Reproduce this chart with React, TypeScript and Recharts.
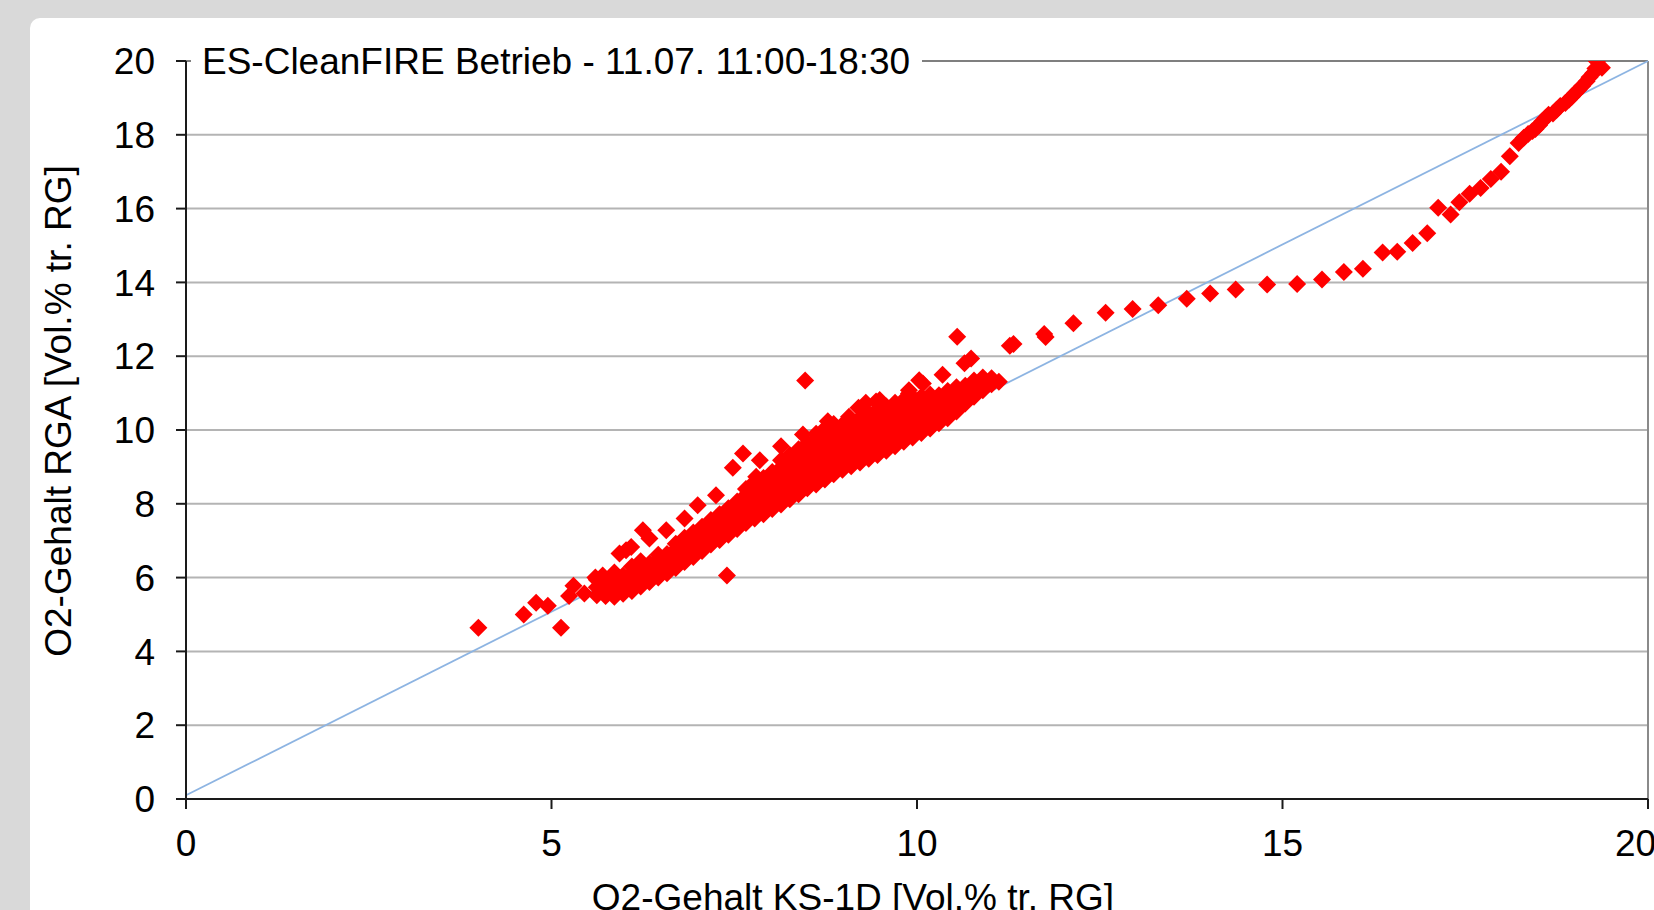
import React from 'react';
import { ScatterChart, Scatter, XAxis, YAxis, CartesianGrid, ReferenceLine } from 'recharts';

const FONT = "'Liberation Sans', Arial, sans-serif";
const FS = 37;

const xTicks = [0, 5, 10, 15, 20];
const yTicks = [0, 2, 4, 6, 8, 10, 12, 14, 16, 18, 20];
const annotationText = 'ES-CleanFIRE Betrieb - 11.07. 11:00-18:30';
const xAxisTitle = 'O2-Gehalt KS-1D [Vol.% tr. RG]';
const yAxisTitle = 'O2-Gehalt RGA [Vol.% tr. RG]';

// 1:1 reference line end points
const diagonalStart = { x: 0, y: 0.1 };
const diagonalEnd = { x: 20, y: 20 };

// sparse points at the low end
const lowPoints: [number, number][] = [
  [4.0, 4.64], [4.62, 5.0], [4.79, 5.32], [4.95, 5.24], [5.13, 4.64],
  [5.24, 5.5], [5.3, 5.78], [5.45, 5.57], [5.6, 6.0], [5.7, 6.06], [7.4, 6.06],
];

// dense cloud, read column by column (x: list of y)
const cloudColumns: [number, number[]][] = [
  [5.62, [5.52, 5.74, 5.94]],
  [5.74, [5.5, 5.7, 5.92]],
  [5.86, [5.48, 5.72, 5.95, 6.14]],
  [5.98, [5.56, 5.82, 6.06]],
  [6.1, [5.64, 5.9, 6.12, 6.3]],
  [6.22, [5.76, 6.02, 6.26, 6.44]],
  [6.34, [5.88, 6.14, 6.38]],
  [6.46, [6.0, 6.26, 6.5, 6.62]],
  [6.58, [6.12, 6.4, 6.64]],
  [6.7, [6.26, 6.52, 6.76, 6.92]],
  [6.82, [6.42, 6.68, 6.9, 7.08]],
  [6.94, [6.56, 6.84, 7.06, 7.22]],
  [7.06, [6.72, 6.98, 7.2, 7.38]],
  [7.18, [6.9, 7.18, 7.4, 7.56]],
  [7.3, [7.02, 7.28, 7.5, 7.72]],
  [7.42, [7.16, 7.42, 7.66, 7.88]],
  [7.54, [7.32, 7.6, 7.84, 8.06]],
  [7.66, [7.48, 7.76, 8.0, 8.24, 8.4]],
  [7.78, [7.6, 7.88, 8.12, 8.36, 8.54]],
  [7.9, [7.72, 8.0, 8.24, 8.48, 8.7]],
  [8.02, [7.86, 8.14, 8.38, 8.62, 8.86]],
  [8.14, [7.98, 8.26, 8.5, 8.74, 8.98, 9.18]],
  [8.26, [8.12, 8.4, 8.64, 8.88, 9.12, 9.32]],
  [8.38, [8.26, 8.54, 8.78, 9.02, 9.26, 9.48]],
  [8.5, [8.42, 8.7, 8.94, 9.18, 9.42, 9.64]],
  [8.62, [8.52, 8.8, 9.04, 9.28, 9.52, 9.76, 9.9]],
  [8.74, [8.66, 8.94, 9.18, 9.42, 9.66, 9.9, 10.04]],
  [8.86, [8.8, 9.08, 9.32, 9.56, 9.8, 10.04, 10.16]],
  [8.98, [8.92, 9.2, 9.44, 9.68, 9.92, 10.14]],
  [9.1, [9.02, 9.3, 9.54, 9.78, 10.02, 10.24]],
  [9.22, [9.12, 9.4, 9.64, 9.88, 10.12, 10.32]],
  [9.34, [9.22, 9.5, 9.74, 9.98, 10.22, 10.44]],
  [9.46, [9.32, 9.6, 9.84, 10.08, 10.32, 10.56]],
  [9.58, [9.44, 9.72, 9.96, 10.2, 10.44, 10.64]],
  [9.7, [9.56, 9.84, 10.08, 10.32, 10.56, 10.74]],
  [9.82, [9.68, 9.96, 10.2, 10.44, 10.66, 10.82]],
  [9.94, [9.8, 10.08, 10.32, 10.56, 10.8]],
  [10.06, [9.92, 10.2, 10.44, 10.66, 10.9]],
  [10.18, [10.04, 10.32, 10.56, 10.8, 10.96]],
  [10.3, [10.18, 10.46, 10.7, 10.94]],
  [10.42, [10.32, 10.6, 10.84, 11.06]],
  [10.54, [10.5, 10.78, 11.0, 11.16]],
  [10.66, [10.72, 10.96, 11.2]],
  [10.78, [10.9, 11.12, 11.34]],
  [10.9, [11.08, 11.3, 11.42]],
  [11.02, [11.24, 11.4]],
  [11.12, [11.31]],
];

// scattered points above the dense cloud
const upperPoints: [number, number][] = [
  [5.93, 6.65], [6.02, 6.74], [6.09, 6.83], [6.25, 7.28], [6.34, 7.06], [6.57, 7.28],
  [6.82, 7.6], [7.0, 7.96], [7.25, 8.23], [7.48, 8.98], [7.62, 9.36], [7.71, 8.46],
  [7.8, 8.73], [7.85, 9.18], [8.14, 9.56], [8.44, 9.88], [8.57, 9.56], [8.78, 10.24],
  [9.07, 10.36], [9.2, 10.6], [9.3, 10.74], [9.44, 10.77], [9.49, 10.81], [9.89, 10.99],
  [9.89, 11.08], [10.03, 11.35], [10.08, 11.26], [10.35, 11.5], [8.47, 11.34], [10.55, 12.53],
];

// upper tail of the run
const tailPoints: [number, number][] = [
  [10.65, 11.81], [10.74, 11.94], [11.27, 12.28], [11.32, 12.33], [11.74, 12.6], [11.76, 12.52],
  [12.14, 12.89], [12.58, 13.18], [12.95, 13.28], [13.3, 13.38], [13.69, 13.56], [14.01, 13.7],
  [14.36, 13.81], [14.79, 13.94], [15.2, 13.96], [15.54, 14.08], [15.84, 14.28], [16.1, 14.37],
  [16.37, 14.81], [16.57, 14.83], [16.78, 15.07], [16.98, 15.33], [17.13, 16.02], [17.3, 15.84],
  [17.42, 16.17], [17.56, 16.4], [17.71, 16.56], [17.85, 16.8], [17.99, 17.0], [18.11, 17.42],
  [18.23, 17.78], [18.3, 17.92], [18.36, 18.02], [18.42, 18.1], [18.46, 18.16], [18.51, 18.26],
  [18.55, 18.36], [18.6, 18.46], [18.64, 18.54], [18.7, 18.58], [18.75, 18.68], [18.8, 18.78],
  [18.87, 18.86], [18.92, 18.96], [18.96, 19.04], [19.0, 19.12], [19.05, 19.22], [19.1, 19.32],
  [19.16, 19.45], [19.2, 19.56], [19.25, 19.67], [19.28, 19.8], [19.3, 19.99], [19.37, 19.82],
];

const toPoints = (arr: [number, number][]) => arr.map(([x, y]) => ({ x, y }));
const cloudPoints = cloudColumns.flatMap(([x, ys]) => ys.map((y) => ({ x, y })));
const allPoints = [
  ...toPoints(lowPoints),
  ...cloudPoints,
  ...toPoints(upperPoints),
  ...toPoints(tailPoints),
];

const Diamond = (props: any) => {
  const { cx, cy } = props;
  if (cx == null || cy == null) return <g />;
  const r = 9;
  return <path d={`M${cx},${cy - r}L${cx + r},${cy}L${cx},${cy + r}L${cx - r},${cy}Z`} fill="#ff0000" />;
};

const tickStyle = { fill: '#000', fontSize: FS, fontFamily: FONT };

const renderXTitle = (props: any) => {
  const vb = props.viewBox || {};
  return (
    <text x={vb.x + vb.width / 2 - 64} y={vb.y + vb.height} textAnchor="middle"
      fontSize={FS} fontFamily={FONT} fill="#000">{xAxisTitle}</text>
  );
};

const renderYTitle = (props: any) => {
  const vb = props.viewBox || {};
  const x = vb.x + 71;
  const y = vb.y + vb.height / 2 - 19;
  return (
    <text x={x} y={y} transform={`rotate(-90, ${x}, ${y})`} textAnchor="middle"
      fontSize={FS} fontFamily={FONT} fill="#000">{yAxisTitle}</text>
  );
};

const renderAnnotation = (props: any) => {
  const vb = props.viewBox || {};
  return (
    <g>
      <rect x={vb.x + 5} y={vb.y - 22} width={731} height={44} fill="#ffffff" />
      <text x={vb.x + 16} y={vb.y} dy="0.355em" fontSize={FS} fontFamily={FONT} fill="#000">{annotationText}</text>
    </g>
  );
};

export default function App() {
  return (
    <div style={{ position: 'absolute', left: 0, top: 0, width: 1654, height: 910, overflow: 'hidden', background: '#d9d9d9' }}>
      <div style={{ position: 'absolute', left: 30, top: 18, width: 1700, height: 1000, background: '#ffffff', borderRadius: 10 }} />
      <div style={{ position: 'absolute', left: 0, top: 0 }}>
        <ScatterChart width={1654} height={910} margin={{ top: 61, right: 6, bottom: 0, left: 0 }}>
          <CartesianGrid vertical={false} stroke="#b4b4b4" strokeWidth={2} />
          <XAxis type="number" dataKey="x" domain={[0, 20]} ticks={xTicks} height={111}
            tickSize={10} tickMargin={21} allowDataOverflow
            axisLine={{ stroke: '#1a1a1a', strokeWidth: 2 }} tickLine={{ stroke: '#1a1a1a', strokeWidth: 2 }}
            tick={tickStyle} label={renderXTitle} />
          <YAxis type="number" dataKey="y" domain={[0, 20]} ticks={yTicks} width={186}
            tickSize={10} tickMargin={21} allowDataOverflow
            axisLine={{ stroke: '#1a1a1a', strokeWidth: 2 }} tickLine={{ stroke: '#1a1a1a', strokeWidth: 2 }}
            tick={tickStyle} label={renderYTitle} />
          <ReferenceLine x={20} stroke="#8a8a8a" strokeWidth={2} />
          <ReferenceLine y={20} stroke="#7f7f7f" strokeWidth={2} label={renderAnnotation} />
          <Scatter data={allPoints} shape={Diamond} isAnimationActive={false} />
          <ReferenceLine segment={[diagonalStart, diagonalEnd]} stroke="#8db4e2" strokeWidth={1.8} />
        </ScatterChart>
      </div>
    </div>
  );
}
